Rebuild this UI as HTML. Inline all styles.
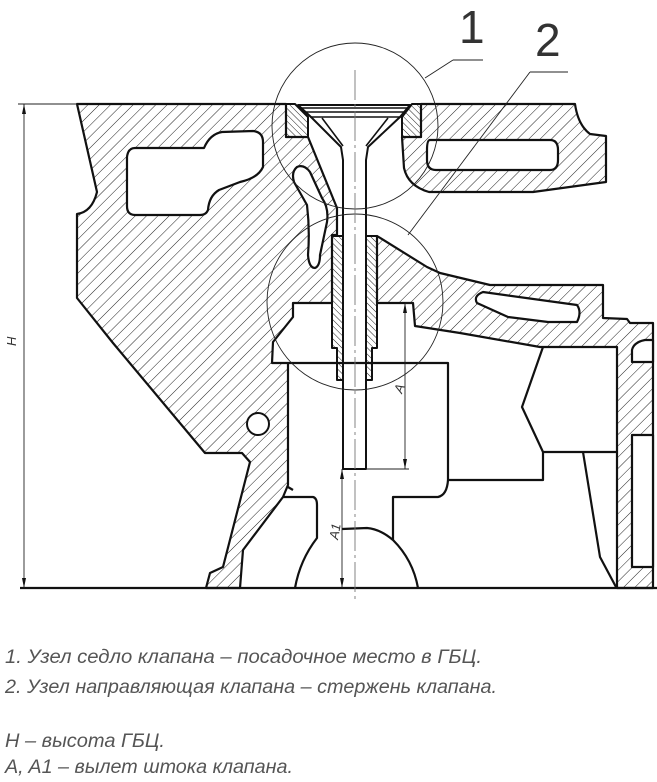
<!DOCTYPE html>
<html><head><meta charset="utf-8"><style>
html,body{margin:0;padding:0;background:#fff;}
svg{display:block;}
</style></head><body>
<svg width="657" height="782" viewBox="0 0 657 782" xmlns="http://www.w3.org/2000/svg">
<defs>
<pattern id="h" patternUnits="userSpaceOnUse" width="8" height="8" patternTransform="rotate(45)">
<line x1="0" y1="0" x2="0" y2="8" stroke="#222" stroke-width="1"/>
</pattern>
<pattern id="h2" patternUnits="userSpaceOnUse" width="4.5" height="4.5" patternTransform="rotate(-45)">
<line x1="0" y1="0" x2="0" y2="4.5" stroke="#222" stroke-width="1"/>
</pattern>
</defs>
<rect width="657" height="782" fill="#fff"/>

<g stroke="#111" stroke-width="2.2" stroke-linejoin="round" fill="url(#h)">
<path d="M77,104 L286,104 L286,137 L308,137 L337,208 L337,235 L332,235 L332,303 L293,303 L293,317 L273,342 L272,363 L288,363 L288,485 L283,497 L243,550 L240,588 L206,588 L210,573 L223,567 L250,462 L242,453 L205,453 L113,343 L77,298 L77,214 Q92,212 97,192 Z"/>
<path d="M421,104 L575,104 Q578,125 590,134 L606,136 L606,182 L533,192 L429,192 Q408,186 404,168 L402,137 L421,137 Z"/>
<path d="M377,236 L427,267 L440,273 L490,285 L603,285 L603,318 L627,319 L630,323 L653,323 L653,588 L617,588 L617,347 L540,347 L460,333 L415,326 L413,303 L377,303 Z"/>
</g>

<g stroke="#111" stroke-width="2.2" stroke-linejoin="round" fill="#fff">
<path d="M135,148 L204,148 Q210,134 222,132 L253,131 Q263,132 263,142 L263,167 Q258,178 240,182 L219,190 Q209,196 208,210 Q206,215 200,215 L135,215 Q127,215 127,206 L127,157 Q128,148 135,148 Z"/>
<path d="M430,140 L550,140 Q558,140 558,150 L558,160 Q558,170 550,170 L436,170 Q427,170 427,160 L427,150 Q427,140 430,140 Z"/>
<path d="M297,167 Q291,172 294,182 L307,205 Q310,230 308,255 Q309,268 315,268 Q320,266 320,255 L327,222 Q329,208 322,198 L310,172 Q304,164 297,167 Z"/>
<path d="M483,292 L577,305 Q582,312 577,322 L548,322 L508,317 L477,303 Q473,296 483,292 Z"/>
<path d="M632,350 Q634,342 645,340 L653,340 L653,362 L632,362 Z"/>
<rect x="632" y="435" width="21" height="132"/>
</g>

<g stroke="#111" stroke-width="2" stroke-linejoin="round" fill="url(#h2)">
<path d="M286,104 L295,104 L308,117 L308,137 L286,137 Z"/>
<path d="M421,104 L412,104 L402,117 L402,137 L421,137 Z"/>
<path d="M332,236 L377,236 L377,348 L372,348 L372,380 L337,380 L337,348 L332,348 Z"/>
</g>

<g stroke="#111" stroke-width="2" fill="#fff" stroke-linejoin="round">
<path d="M298,105 L410,105 L400,117 L368,147 L366,160 L366,469 L343,469 L343,160 L341,147 L311,117 Z"/>
</g>
<g stroke="#111" stroke-width="1.6" fill="none">
<line x1="300" y1="108" x2="408" y2="108"/>
<line x1="304" y1="112" x2="405" y2="112"/>
<line x1="310" y1="117" x2="401" y2="117"/>
<line x1="322" y1="118" x2="343" y2="146"/>
<line x1="388" y1="118" x2="366" y2="146"/>
</g>

<g stroke="#111" stroke-width="2.2" fill="none" stroke-linejoin="round">
<line x1="20" y1="588" x2="657" y2="588"/>
<path d="M288,363 L448,363 L448,480 Q447,495 438,497 L393,497 L393,540"/>
<path d="M283,497 L313,497 Q317,498 317,505 L317,538 Q300,560 295,588"/>
<path d="M342,529 L367,528 Q380,529 393,540 Q413,560 418,588"/>
<path d="M543,347 L522,407 L543,452 L616,452 M543,452 L543,480 L448,480"/>
<path d="M583,452 L600,557 L616,587"/>
<path d="M288,487 L293,490"/>
</g>
<circle cx="258" cy="424" r="11" fill="#fff" stroke="#111" stroke-width="2"/>

<g stroke="#222" stroke-width="0.9" fill="none">
<circle cx="355" cy="126" r="83"/>
<circle cx="355" cy="302" r="88"/>
<line x1="425" y1="78" x2="453" y2="60"/><line x1="453" y1="60" x2="483" y2="60"/>
<line x1="408" y1="235" x2="530" y2="72"/><line x1="530" y1="72" x2="568" y2="72"/>
<line x1="18" y1="104" x2="77" y2="104"/>
<line x1="24" y1="104" x2="24" y2="588"/>
<line x1="405" y1="303" x2="405" y2="469"/>
<line x1="366" y1="469" x2="409" y2="469"/>
<line x1="342" y1="469" x2="342" y2="588"/>
<line x1="413" y1="303" x2="405" y2="303"/>
<line x1="355" y1="70" x2="355" y2="600" stroke="#777" stroke-dasharray="30,4,3,4"/>
</g>
<g fill="#111">
<path d="M24,104 l-2,10 l4,0 Z"/><path d="M24,588 l-2,-10 l4,0 Z"/>
<path d="M405,303 l-2,10 l4,0 Z"/><path d="M405,469 l-2,-10 l4,0 Z"/>
<path d="M342,469 l-2,10 l4,0 Z"/><path d="M342,588 l-2,-10 l4,0 Z"/>
</g>

<g font-family="Liberation Sans, DejaVu Sans, sans-serif" fill="#333">
<text x="459" y="43" font-size="46" font-weight="300">1</text>
<text x="535" y="56" font-size="46" font-weight="300">2</text>
<text transform="translate(16,346) rotate(-90)" font-size="13" font-style="italic">H</text>
<text transform="translate(402,394) rotate(-70)" font-size="13" font-style="italic">A</text>
<text transform="translate(338,540) rotate(-80)" font-size="13" font-style="italic">A1</text>
</g>
<g font-family="Liberation Sans, DejaVu Sans, sans-serif" font-style="italic" font-size="19" fill="#555">
<text x="5" y="663" textLength="477" lengthAdjust="spacingAndGlyphs">1. Узел седло клапана – посадочное место в ГБЦ.</text>
<text x="5" y="693" textLength="492" lengthAdjust="spacingAndGlyphs">2. Узел направляющая клапана – стержень клапана.</text>
<text x="5" y="747" textLength="160" lengthAdjust="spacingAndGlyphs">H – высота ГБЦ.</text>
<text x="5" y="773" textLength="288" lengthAdjust="spacingAndGlyphs">A, A1 – вылет штока клапана.</text>
</g>
</svg>
</body></html>
